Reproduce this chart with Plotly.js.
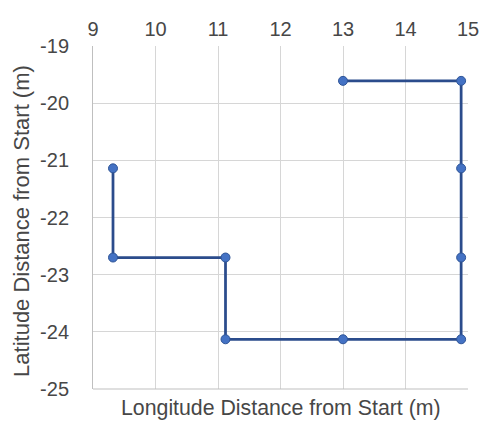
<!DOCTYPE html>
<html>
<head>
<meta charset="utf-8">
<script src="https://cdn.plot.ly/plotly-3.0.1.min.js"></script>
<style>
  html, body { margin: 0; padding: 0; background: #ffffff; }
  #chart { width: 480px; height: 421px; }
</style>
</head>
<body>
<div id="chart"></div>
<script>
// Walked route, in metres from the starting point
const longitude = [13.0, 14.89, 14.89, 14.89, 14.89, 13.0, 11.12, 11.12, 9.32, 9.32];
const latitude  = [-19.61, -19.61, -21.14, -22.70, -24.13, -24.13, -24.13, -22.70, -22.70, -21.14];

const xTicks = [9, 10, 11, 12, 13, 14, 15];
const yTicks = [-19, -20, -21, -22, -23, -24, -25];

const xTitle = 'Longitude Distance from Start (m)';
const yTitle = 'Latitude Distance from Start (m)';

const fontFamily = 'Liberation Sans, Arial, sans-serif';
const textColor = '#474747';

const trace = {
  x: longitude,
  y: latitude,
  type: 'scatter',
  mode: 'lines+markers',
  line: { color: '#2B4C8C', width: 2.75 },
  marker: { color: '#4472C4', size: 9, line: { color: '#2F5597', width: 1 } },
  showlegend: false,
  hoverinfo: 'x+y'
};

const layout = {
  width: 480,
  height: 421,
  margin: { l: 93, r: 12, t: 46, b: 32 },
  paper_bgcolor: '#ffffff',
  plot_bgcolor: '#ffffff',
  font: { family: fontFamily, size: 20, color: textColor },
  xaxis: {
    side: 'top',
    range: [9, 15],
    tickvals: xTicks,
    ticktext: xTicks.map(String),
    showgrid: true,
    gridcolor: '#d6d6d6',
    gridwidth: 1,
    zeroline: false,
    showline: false,
    ticks: '',
    ticklabelstandoff: 5,
    tickfont: { size: 20, color: textColor }
  },
  yaxis: {
    range: [-25, -19],
    tickvals: yTicks,
    ticktext: yTicks.map(String),
    showgrid: true,
    gridcolor: '#d6d6d6',
    gridwidth: 1,
    zeroline: false,
    showline: true,
    linecolor: '#bfbfbf',
    linewidth: 1,
    ticks: '',
    ticklabelstandoff: 19,
    tickfont: { size: 20, color: textColor }
  },
  shapes: [
    {
      type: 'line', xref: 'paper', yref: 'paper',
      x0: 0, x1: 1, y0: 0, y1: 0,
      line: { color: '#bfbfbf', width: 1 }
    }
  ],
  annotations: [
    {
      text: xTitle,
      xref: 'paper', yref: 'paper',
      x: 0.5, y: 0,
      yshift: -19,
      xanchor: 'center', yanchor: 'middle',
      showarrow: false,
      font: { size: 21.3, color: textColor }
    },
    {
      text: yTitle,
      xref: 'paper', yref: 'paper',
      x: 0, y: 0.49,
      xshift: -71,
      xanchor: 'center', yanchor: 'middle',
      textangle: -90,
      showarrow: false,
      font: { size: 22, color: textColor }
    }
  ]
};

Plotly.newPlot('chart', [trace], layout, { displayModeBar: false, staticPlot: true });
</script>
</body>
</html>
